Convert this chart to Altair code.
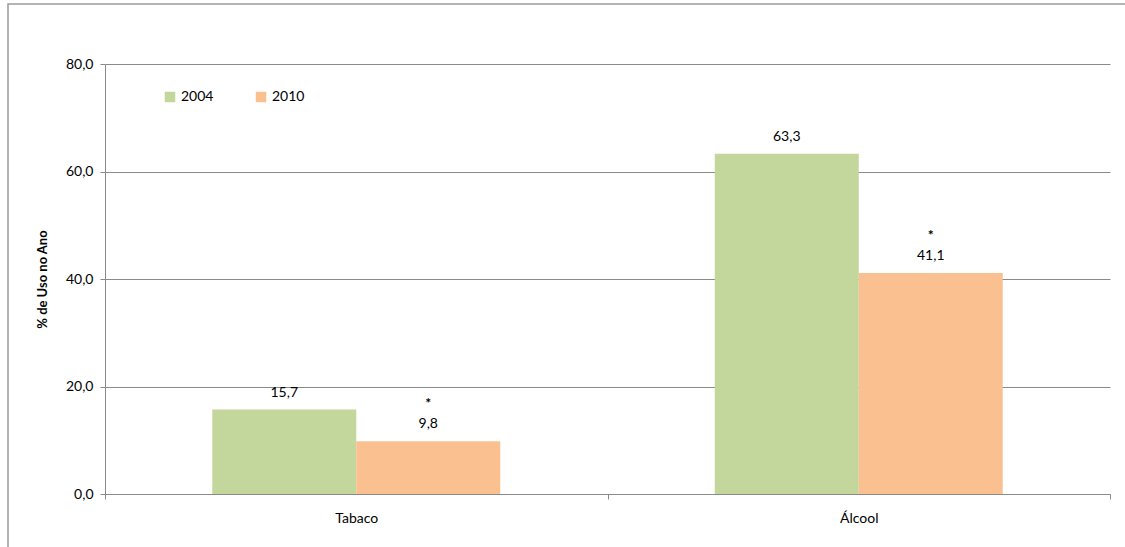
import altair as alt
import pandas as pd

categories = ["Tabaco", "Tabaco", "Álcool", "Álcool"]
years = ["2004", "2010", "2004", "2010"]
values = [15.7, 9.8, 63.3, 41.1]
labels = ["15,7", "9,8", "63,3", "41,1"]
stars = ["", "*", "", "*"]

df = pd.DataFrame({"cat": categories, "year": years, "value": values,
                   "label": labels, "star": stars})

FONT = "Lato"
GRAY = "#8a8a8a"
cat_order = ["Tabaco", "Álcool"]

x_enc = alt.X("cat:N", sort=cat_order, title=None,
              scale=alt.Scale(paddingInner=0, paddingOuter=0),
              axis=alt.Axis(labelAngle=0, tickBand="extent", tickSize=5,
                            tickColor=GRAY, domainColor=GRAY, labelPadding=12,
                            labelFontSize=14, labelFont=FONT, labelColor="#000000",
                            grid=False))
xo_enc = alt.XOffset("year:N", scale=alt.Scale(paddingInner=0, paddingOuter=0.745))
y_scale = alt.Scale(domain=[0, 80])

bars = alt.Chart(df).mark_bar().encode(
    x=x_enc,
    xOffset=xo_enc,
    y=alt.Y("value:Q", scale=y_scale, title="% de Uso  no Ano",
            axis=alt.Axis(values=[0, 20, 40, 60, 80], tickSize=5, tickColor=GRAY,
                          domainColor=GRAY, gridColor=GRAY, gridWidth=1,
                          labelExpr="replace(format(datum.value, '.1f'), '.', ',')",
                          labelFont=FONT, labelFontSize=14, labelColor="#000000",
                          labelPadding=7, titleFont=FONT, titleFontSize=13,
                          titleFontWeight="bold", titleColor="#000000", titlePadding=16)),
    color=alt.Color("year:N",
                    scale=alt.Scale(domain=["2004", "2010"], range=["#C3D69B", "#FAC090"]),
                    legend=alt.Legend(title=None, orient="none", direction="horizontal",
                                      legendX=58, legendY=26, symbolType="square",
                                      symbolSize=110, symbolStrokeWidth=0,
                                      labelFont=FONT, labelFontSize=14,
                                      labelColor="#000000", columnPadding=40,
                                      symbolOffset=0)),
)

vals = alt.Chart(df).mark_text(font=FONT, fontSize=14, dy=-17, color="#000000").encode(
    x=alt.X("cat:N", sort=cat_order),
    xOffset=alt.XOffset("year:N"),
    y=alt.Y("value:Q", scale=y_scale),
    text="label:N",
)

starm = alt.Chart(df).mark_text(font=FONT, fontSize=14, dy=-37, color="#000000",
                                fontWeight="bold").encode(
    x=alt.X("cat:N", sort=cat_order),
    xOffset=alt.XOffset("year:N"),
    y=alt.Y("value:Q", scale=y_scale),
    text="star:N",
)

frame = alt.Chart(pd.DataFrame({"a": [0]})).mark_rect(
    fill=None, stroke="#9a9a9a", strokeWidth=1.5).encode(
    x=alt.value(-97), x2=alt.value(1030), y=alt.value(-60), y2=alt.value(500))

chart = alt.layer(frame, bars, vals, starm).properties(
    width=1005, height=430,
    autosize=alt.AutoSizeParams(type="none"),
    padding={"left": 105, "top": 64, "right": 15, "bottom": 53},
    background="white",
).configure_view(stroke=None)

chart.save("out.html", embed_options={"renderer": "svg", "actions": False})
